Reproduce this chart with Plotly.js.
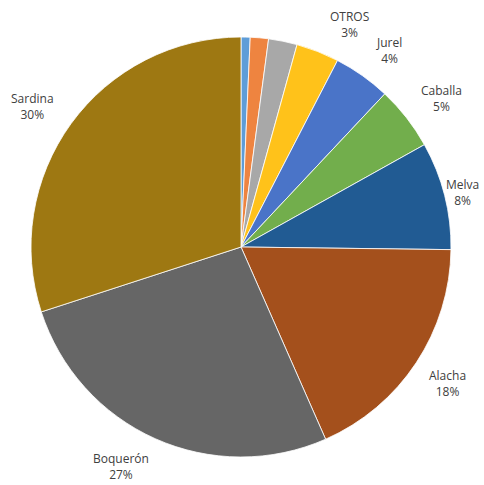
<!DOCTYPE html>
<html><head><meta charset="utf-8">
<script src="https://cdn.plot.ly/plotly-3.0.1.min.js"></script>
<style>html,body{margin:0;padding:0;background:#fff}#chart{width:484px;height:485px}</style>
</head><body><div id="chart"></div>
<script>
const species = ["Otra 1","Otra 2","Otra 3","OTROS","Jurel","Caballa","Melva","Alacha","Boquerón","Sardina"];
const shares = [0.7, 1.4, 2.2, 3.3, 4.4, 4.9, 8.3, 18.2, 26.6, 30.0];
const showLabel = [false,false,false,true,true,true,true,true,true,true];
const colors = ["#5E9DD8","#EE8440","#A8A8A8","#FFC21A","#4A74C8","#72AE4C","#215B93","#A4501C","#666666","#9E7812"];
// label placement (layout styling): angular nudge in degrees and distance factor
const labelNudge = [0,0,0,4.5,1.8,1.5,1.0,0,4.5,-2];
const labelDist  = [1,1,1,1.18,1.17,1.19,1.14,1.18,1.19,1.20];

const W = 484, H = 485, cx = 241, cy = 247, R = 210;
const total = shares.reduce((a,b)=>a+b,0);
const annotations = [];
let acc = 0;
shares.forEach((v,i)=>{
  const mid = ((acc + v/2)/total*360 + labelNudge[i])*Math.PI/180; acc += v;
  if (!showLabel[i]) return;
  const d = R*labelDist[i];
  let px = cx + d*Math.sin(mid), py = cy - d*Math.cos(mid);
  px = Math.min(px, W-22); py = Math.min(py, H-18);
  annotations.push({
    xref:'paper', yref:'paper', x:px/W, y:1-py/H, xanchor:'center', yanchor:'middle',
    text: species[i] + '<br>' + Math.round(v/total*100) + '%', showarrow:false,
    font:{family:'"Open Sans", "Liberation Sans", sans-serif', size:12, color:'#404040'}
  });
});

Plotly.newPlot('chart', [{
  type:'pie', labels:species, values:shares, sort:false, direction:'clockwise', rotation:0,
  textinfo:'none', hoverinfo:'label+percent',
  marker:{colors:colors, line:{color:'#ffffff', width:0.8}},
  domain:{x:[(cx-R)/W,(cx+R)/W], y:[(H-cy-R)/H,(H-cy+R)/H]}
}], {
  width:W, height:H, margin:{l:0,r:0,t:0,b:0}, showlegend:false,
  paper_bgcolor:'#fff', annotations:annotations
}, {displayModeBar:false, staticPlot:true});
</script></body></html>
